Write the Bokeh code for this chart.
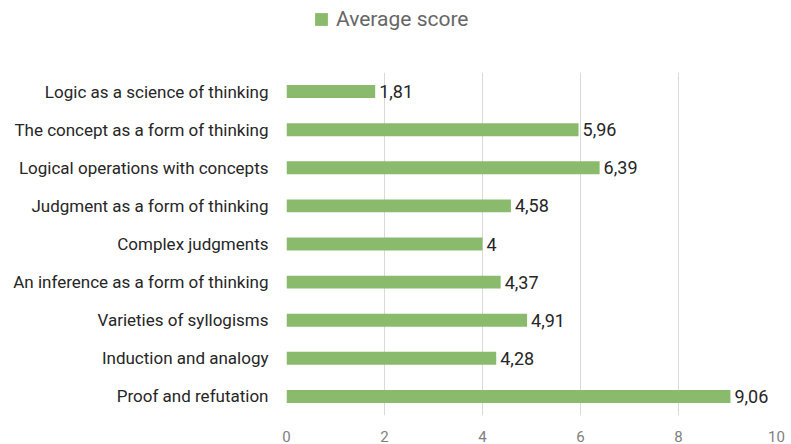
from bokeh.plotting import figure
from bokeh.models import ColumnDataSource, FactorRange, Legend, LegendItem, LabelSet, FixedTicker
from bokeh.layouts import column
from bokeh.core.properties import value
from bokeh.embed import file_html
from bokeh.resources import INLINE

categories = [
    "Logic as a science of thinking",
    "The concept as a form of thinking",
    "Logical operations with concepts",
    "Judgment as a form of thinking",
    "Complex judgments",
    "An inference as a form of thinking",
    "Varieties of syllogisms",
    "Induction and analogy",
    "Proof and refutation",
]
scores = [1.81, 5.96, 6.39, 4.58, 4, 4.37, 4.91, 4.28, 9.06]
x_ticks = [0, 2, 4, 6, 8, 10]
series_name = "Average score"
BAR_COLOR = "#8aba6c"

def fmt(v):
    s = ("%g" % v)
    return s.replace(".", ",")

src = ColumnDataSource(dict(
    cat=categories,
    val=scores,
    lab=[fmt(v) for v in scores],
))

FONT = "Roboto"
p = figure(
    width=791, height=372,
    y_range=FactorRange(factors=list(reversed(categories)), range_padding=0),
    x_range=(0, 10),
    output_backend="svg", toolbar_location=None,
    min_border_left=286, min_border_right=15, min_border_top=0, min_border_bottom=25,
)
p.outline_line_color = None
p.background_fill_color = "white"
p.border_fill_color = "white"

r = p.hbar(y="cat", right="val", left=0, height=0.34, source=src,
           fill_color=BAR_COLOR, line_color=None)

labels = LabelSet(x="val", y="cat", text="lab", source=src, x_offset=4,
                  text_baseline="middle", text_align="left",
                  text_font=value(FONT), text_font_size="18px", text_color="#262626")
p.add_layout(labels)

p.xgrid.ticker = FixedTicker(ticks=x_ticks)
p.xgrid.grid_line_color = "#d9d9d9"
p.ygrid.grid_line_color = None

p.xaxis.ticker = FixedTicker(ticks=x_ticks)
p.xaxis.axis_line_color = None
p.xaxis.major_tick_line_color = None
p.xaxis.minor_tick_line_color = None
p.xaxis.major_label_standoff = 9
p.xaxis.major_label_text_font = FONT
p.xaxis.major_label_text_font_size = "15px"
p.xaxis.major_label_text_color = "#808080"

p.yaxis.axis_line_color = None
p.yaxis.major_tick_line_color = None
p.yaxis.minor_tick_line_color = None
p.yaxis.major_label_standoff = 12
p.yaxis.major_label_text_font = FONT
p.yaxis.major_label_text_font_size = "17px"
p.yaxis.major_label_text_color = "#262626"

# legend strip above the chart
lf = figure(width=791, height=72, output_backend="svg", toolbar_location=None,
            x_range=(0, 1), y_range=(0, 1),
            min_border_left=0, min_border_right=0, min_border_top=0, min_border_bottom=0)
lf.axis.visible = False
lf.grid.visible = False
lf.outline_line_color = None
lr = lf.hbar(y=[-10], right=[-9], left=[-10], height=0.5, fill_color=BAR_COLOR, line_color=None)
legend = Legend(items=[LegendItem(label=series_name, renderers=[lr])],
                location=(27, 41), orientation="horizontal",
                border_line_color=None, background_fill_alpha=0,
                label_text_font=FONT, label_text_font_size="21px",
                label_text_color="#666666", glyph_width=16, glyph_height=16,
                label_standoff=7, padding=0, margin=0)
lf.add_layout(legend, "center")

layout = column(lf, p, spacing=0)
open("out.html", "w").write(file_html(layout, INLINE))
